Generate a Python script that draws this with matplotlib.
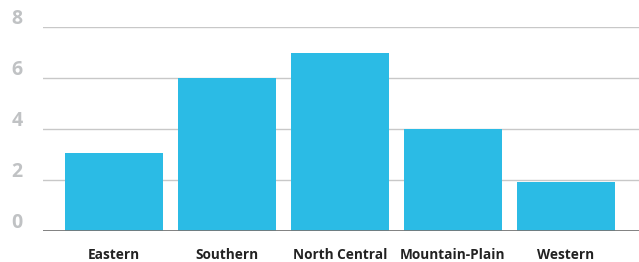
import matplotlib
matplotlib.use("Agg")
import matplotlib.pyplot as plt
import matplotlib.transforms as mtransforms

categories = ["Eastern", "Southern", "North Central", "Mountain-Plain", "Western"]
values = [3.05, 6, 7, 4, 1.93]
yticks = [0, 2, 4, 6, 8]

fig = plt.figure(figsize=(6.39, 2.62), dpi=100)
ax = fig.add_axes([43/639, 31/262, (639-43)/639, (231-27)/262])

x = list(range(len(categories)))
ax.bar(x, values, width=0.87, color="#2bbbe5", zorder=2)
ax.set_xlim(-0.628, 4.646)
ax.set_ylim(0, 8)

ax.set_yticks(yticks)
ax.yaxis.grid(True, color="#c8c8c8", linewidth=1, zorder=0)
ax.axhline(0, color="#777777", linewidth=2, zorder=3)
for s in ax.spines.values():
    s.set_visible(False)
ax.tick_params(axis="both", length=0)

ax.set_yticklabels([str(t) for t in yticks], fontsize=14, fontweight="bold",
                   color="#c0c2c4", family=["Open Sans", "DejaVu Sans"])
offset = mtransforms.ScaledTranslation(-27/100, -2/100, fig.dpi_scale_trans)
for lab in ax.get_yticklabels():
    lab.set_ha("left")
    lab.set_va("bottom")
    lab.set_transform(lab.get_transform() + offset)

ax.set_xticks(x)
ax.set_xticklabels(categories, fontsize=9.8, fontweight="bold", color="#222222",
                   family=["Open Sans", "DejaVu Sans"])
ax.tick_params(axis="x", pad=12)

fig.savefig("out.png", dpi=100)
